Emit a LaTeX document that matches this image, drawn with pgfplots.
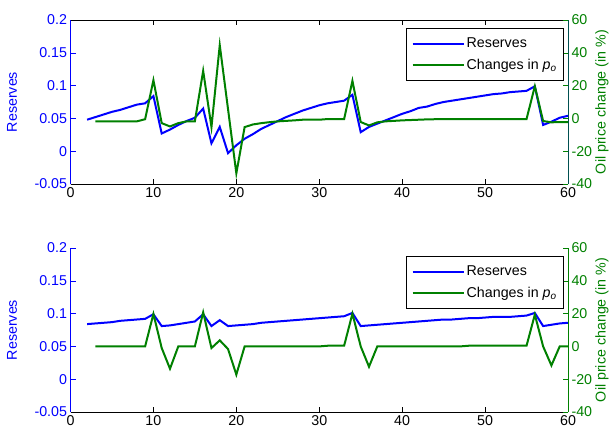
\documentclass[border=0pt]{standalone}
\usepackage{pgfplots}
\pgfplotsset{compat=1.18}
\usepackage{fontspec}
\setmainfont{Liberation Sans}
\definecolor{mblue}{RGB}{0,0,255}
\definecolor{mgreen}{RGB}{0,128,0}
\definecolor{mteal}{RGB}{0,80,80}

\pgfplotstableread{
x y
2 0.048
3 0.052
4 0.056
5 0.060
6 0.063
7 0.067
8 0.071
9 0.073
10 0.084
11 0.027
12 0.033
13 0.040
14 0.046
15 0.051
16 0.065
17 0.012
18 0.037
19 -0.003
20 0.009
21 0.019
22 0.026
23 0.034
24 0.040
25 0.046
26 0.052
27 0.057
28 0.062
29 0.066
30 0.070
31 0.073
32 0.075
33 0.077
34 0.086
35 0.029
36 0.037
37 0.042
38 0.047
39 0.052
40 0.057
41 0.061
42 0.066
43 0.068
44 0.072
45 0.075
46 0.077
47 0.079
48 0.081
49 0.083
50 0.085
51 0.087
52 0.088
53 0.090
54 0.091
55 0.092
56 0.099
57 0.040
58 0.045
59 0.051
60 0.054
}\topres

\pgfplotstableread{
x y
3 -1.8
4 -1.8
5 -1.8
6 -1.8
7 -1.8
8 -1.8
9 -0.5
10 23.3
11 -2.9
12 -4.9
13 -2.9
14 -1.8
15 -1.8
16 29.0
17 -5.3
18 44.7
19 5.6
20 -33.5
21 -5.3
22 -3.7
23 -2.9
24 -2.3
25 -1.8
26 -1.5
27 -1.2
28 -0.8
29 -0.8
30 -0.8
31 -0.4
32 -0.4
33 -0.4
34 22.9
35 -2.2
36 -4.3
37 -2.4
38 -1.8
39 -1.5
40 -1.2
41 -1.0
42 -0.8
43 -0.6
44 -0.5
45 -0.4
46 -0.4
47 -0.4
48 -0.4
49 -0.4
50 -0.4
51 -0.4
52 -0.4
53 -0.4
54 -0.4
55 -0.4
56 19.6
57 -1.6
58 -2.4
59 -2.2
60 -2.2
}\topoil

\pgfplotstableread{
x y
2 0.084
3 0.085
4 0.086
5 0.087
6 0.089
7 0.090
8 0.091
9 0.092
10 0.099
11 0.081
12 0.082
13 0.084
14 0.086
15 0.088
16 0.099
17 0.081
18 0.090
19 0.081
20 0.082
21 0.083
22 0.084
23 0.086
24 0.087
25 0.088
26 0.089
27 0.090
28 0.091
29 0.092
30 0.093
31 0.094
32 0.095
33 0.096
34 0.101
35 0.081
36 0.082
37 0.083
38 0.084
39 0.085
40 0.086
41 0.087
42 0.088
43 0.089
44 0.090
45 0.091
46 0.091
47 0.092
48 0.093
49 0.093
50 0.094
51 0.095
52 0.095
53 0.095
54 0.096
55 0.097
56 0.101
57 0.081
58 0.083
59 0.085
60 0.086
}\botres

\pgfplotstableread{
x y
3 0
4 0
5 0
6 0
7 0
8 0
9 0
10 19.8
11 -1.0
12 -13.6
13 0
14 0
15 0
16 20.8
17 -1.0
18 3.7
19 -1.6
20 -17.2
21 0
22 0
23 0
24 0
25 0
26 0
27 0
28 0
29 0
30 0
31 0.4
32 0.4
33 0.4
34 20.0
35 0
36 -12.4
37 0
38 0
39 0
40 0
41 0
42 0
43 0
44 0
45 0
46 0
47 0
48 0.4
49 0.4
50 0.4
51 0.4
52 0.4
53 0.4
54 0.4
55 0.4
56 19.4
57 0
58 -11.6
59 0
60 0
}\botoil

\newcommand{\ff}{\fontsize{14.3}{16.5}\selectfont}

\pgfplotsset{
  base/.style={scale only axis, width=497.5bp, height=164bp, xmin=0, xmax=60,
    /pgf/number format/assume math mode=true,
    tick align=inside, major tick length=5bp,
    font=\ff, tick label style={font=\ff},
    axis line style={line width=0.6bp}, every tick/.style={line width=0.6bp}},
  leftax/.style={base, ymin=-0.05, ymax=0.2,
    ytick={-0.05,0,0.05,0.1,0.15,0.2},
    yticklabels={-0.05,0,0.05,0.1,0.15,0.2},
    axis y line*=left, y axis line style={mblue},
    ytick style={mblue}, yticklabel style={mblue},
    xtick={0,10,...,60}, x axis line style={black}, xtick style={black},
    ylabel={Reserves},
    ylabel style={mblue, at={(axis description cs:-0.1176,0.5)}, anchor=center}},
  rightax/.style={base, ymin=-40, ymax=60,
    ytick={-40,-20,0,20,40,60},
    axis y line*=right, hide x axis,
    ytick style={mgreen}, yticklabel style={mgreen},
    ylabel={Oil price change (in \%)},
    ylabel style={mgreen, at={(axis description cs:1.068,0.5)}, anchor=center},
    legend style={at={(1,1)}, anchor=north east, xshift=-4bp, yshift=-8.3bp,
      draw=black, line width=0.6bp, font=\ff, inner xsep=5bp, inner ysep=7.5bp,
      row sep=6bp},
    legend cell align=left,
    legend image code/.code={\path (-3.5bp,0bp) -- (47.6bp,0bp);\draw[##1] (0bp,0bp) -- (47.6bp,0bp);}},
}

\begin{document}
\begin{tikzpicture}
\path[use as bounding box] (0,0) rectangle (609bp,-430bp);
% ---------- top panel ----------
\begin{axis}[leftax, axis x line*=box, at={(70.5bp,-184bp)}, anchor=south west]
\addplot[mblue, line width=2bp] table[x=x,y=y] {\topres};
\end{axis}
\begin{axis}[rightax, y axis line style={mteal}, at={(70.5bp,-184bp)}, anchor=south west]
\addlegendimage{mblue, line width=2bp}
\addlegendentry{Reserves}
\addplot[mgreen, line width=2bp] table[x=x,y=y] {\topoil};
\addlegendentry{Changes in \textit{p}\textsubscript{\textit{o}}}
\end{axis}
% ---------- bottom panel ----------
\begin{axis}[leftax, axis x line*=bottom, at={(70.5bp,-412bp)}, anchor=south west]
\addplot[mblue, line width=2bp] table[x=x,y=y] {\botres};
\end{axis}
\begin{axis}[rightax, y axis line style={mgreen}, at={(70.5bp,-412bp)}, anchor=south west]
\addlegendimage{mblue, line width=2bp}
\addlegendentry{Reserves}
\addplot[mgreen, line width=2bp] table[x=x,y=y] {\botoil};
\addlegendentry{Changes in \textit{p}\textsubscript{\textit{o}}}
\end{axis}
\end{tikzpicture}
\end{document}
